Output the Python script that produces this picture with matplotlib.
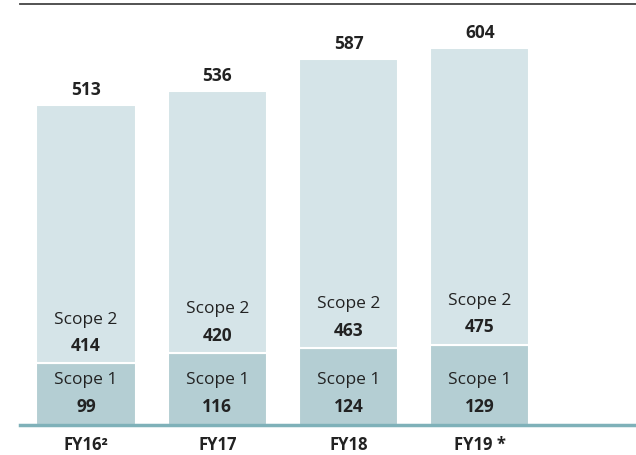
import matplotlib.pyplot as plt
import numpy as np

plt.rcParams['font.family'] = ['Open Sans', 'DejaVu Sans']

# Emissions data
years = ['FY16²', 'FY17', 'FY18', 'FY19 *']
scope1 = [99, 116, 124, 129]
scope2 = [414, 420, 463, 475]
totals = [513, 536, 587, 604]

c_scope1 = '#b4ced3'
c_scope2 = '#d5e4e8'
c_base = '#7fb1b9'
c_text = '#222222'

x = np.arange(len(years))
width = 0.755

fig = plt.figure(figsize=(6.36, 4.56), dpi=100)
ax = fig.add_axes([20 / 636, 30 / 456, 616 / 636, 421 / 456])

ax.bar(x, scope1, width, color=c_scope1, edgecolor='white', linewidth=1.5)
ax.bar(x, scope2, width, bottom=scope1, color=c_scope2, edgecolor='white', linewidth=1.5)

for i in range(len(x)):
    ax.annotate(str(totals[i]), xy=(x[i], totals[i]), xytext=(0, 5),
                textcoords='offset points', ha='center', va='bottom',
                fontsize=12.5, fontweight='bold', color=c_text)
    # scope 2 labels just above the scope 1 block
    ax.annotate(str(scope2[i]), xy=(x[i], scope1[i]), xytext=(0, 13),
                textcoords='offset points', ha='center', va='center',
                fontsize=12.5, fontweight='bold', color=c_text)
    ax.annotate('Scope 2', xy=(x[i], scope1[i]), xytext=(0, 32),
                textcoords='offset points', ha='center', va='center',
                fontsize=12.5, color=c_text)
    # scope 1 labels near the base
    ax.annotate('Scope 1', xy=(x[i], 0), xytext=(0, 33),
                textcoords='offset points', ha='center', va='center',
                fontsize=12.5, color=c_text)
    ax.annotate(str(scope1[i]), xy=(x[i], 0), xytext=(0, 14),
                textcoords='offset points', ha='center', va='center',
                fontsize=12.5, fontweight='bold', color=c_text)

ax.set_xlim(-0.503, 4.19)
ax.set_ylim(0, 675)
ax.set_xticks(x)
ax.set_xticklabels(years, fontsize=12, fontweight='bold', color=c_text)
ax.tick_params(axis='x', length=0, pad=7)
ax.set_yticks([])

for s in ['left', 'right']:
    ax.spines[s].set_visible(False)
ax.spines['top'].set_color('#444444')
ax.spines['top'].set_linewidth(1.3)
ax.spines['bottom'].set_color(c_base)
ax.spines['bottom'].set_linewidth(2.5)

fig.savefig('out.png', dpi=100, facecolor='white')
